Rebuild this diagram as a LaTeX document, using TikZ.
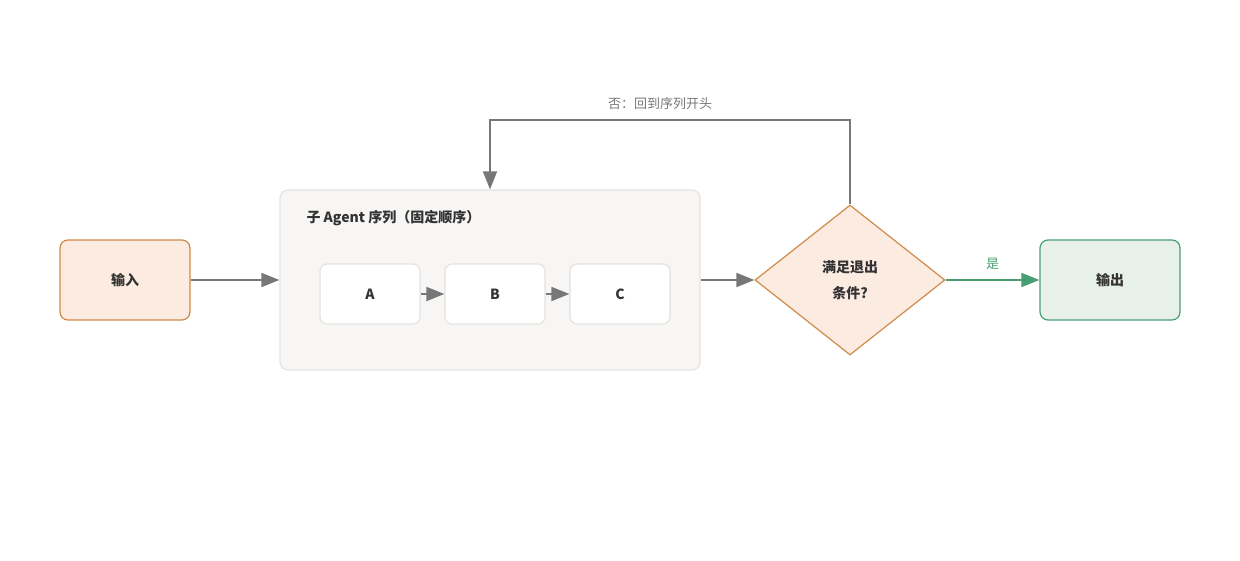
\documentclass[tikz,border=0pt]{standalone}
\usepackage{fontspec}
\setmainfont{Noto Sans CJK SC}
\usetikzlibrary{shapes.geometric,arrows.meta}
\definecolor{ofill}{HTML}{FBEBE0}\definecolor{ostroke}{HTML}{D08A4A}
\definecolor{gfill}{HTML}{E8F0EA}\definecolor{gstroke}{HTML}{4A9E74}
\definecolor{cfill}{HTML}{F7F6F4}\definecolor{cstroke}{HTML}{E5E3E0}
\definecolor{arr}{HTML}{777777}\definecolor{txt}{HTML}{333333}
\begin{document}
\begin{tikzpicture}[x=1pt,y=1pt,
 box/.style={rounded corners=8pt,line width=1.2pt,font=\bfseries\fontsize{14}{16}\selectfont,text=txt},
 sub/.style={rounded corners=7pt,draw=cstroke,fill=white,line width=1.2pt,minimum width=100pt,minimum height=60pt,font=\bfseries\fontsize{14}{16}\selectfont,text=txt},
 ar/.style={draw=arr,line width=1.5pt,-{Triangle[length=18pt,width=14pt]}}]
\useasboundingbox (0,0) rectangle (1240,560);
\node[box,draw=ostroke,fill=ofill,minimum width=130pt,minimum height=80pt] (in) at (125,280) {输入};
\node[rounded corners=8pt,draw=cstroke,fill=cfill,line width=1.2pt,minimum width=420pt,minimum height=180pt] (seq) at (490,280) {};
\node[anchor=west,font=\bfseries\fontsize{14}{16}\selectfont,text=txt] (title) at (303,342) {子 Agent 序列（固定顺序）};
\node[sub] (a) at (370,266) {A};
\node[sub] (b) at (495,266) {B};
\node[sub] (c) at (620,266) {C};
\node[diamond,draw=ostroke,fill=ofill,line width=1.2pt,minimum width=190pt,minimum height=150pt,inner sep=0pt,aspect=1.27,align=center,font=\bfseries\fontsize{14}{26}\selectfont,text=txt] (d) at (850,280) {满足退出\\条件?};
\node[box,draw=gstroke,fill=gfill,minimum width=140pt,minimum height=80pt] (out) at (1110,280) {输出};
\draw[ar] (in) -- (seq);
\draw[ar] (a) -- (b);
\draw[ar] (b) -- (c);
\draw[ar] (seq) -- (d);
\draw[ar,draw=gstroke] (d) -- (out) node[midway,above=6pt,text=gstroke,font=\fontsize{13}{15}\selectfont] (yes) {是};
\coordinate (p1) at (850,440);
\coordinate (p2) at (490,440);
\draw[ar] (d.north) -- (p1) -- (p2) -- (seq.north -| p2);
\node[text=arr,font=\fontsize{13}{15}\selectfont] (no) at (660,456) {否：回到序列开头};
\end{tikzpicture}
\end{document}
